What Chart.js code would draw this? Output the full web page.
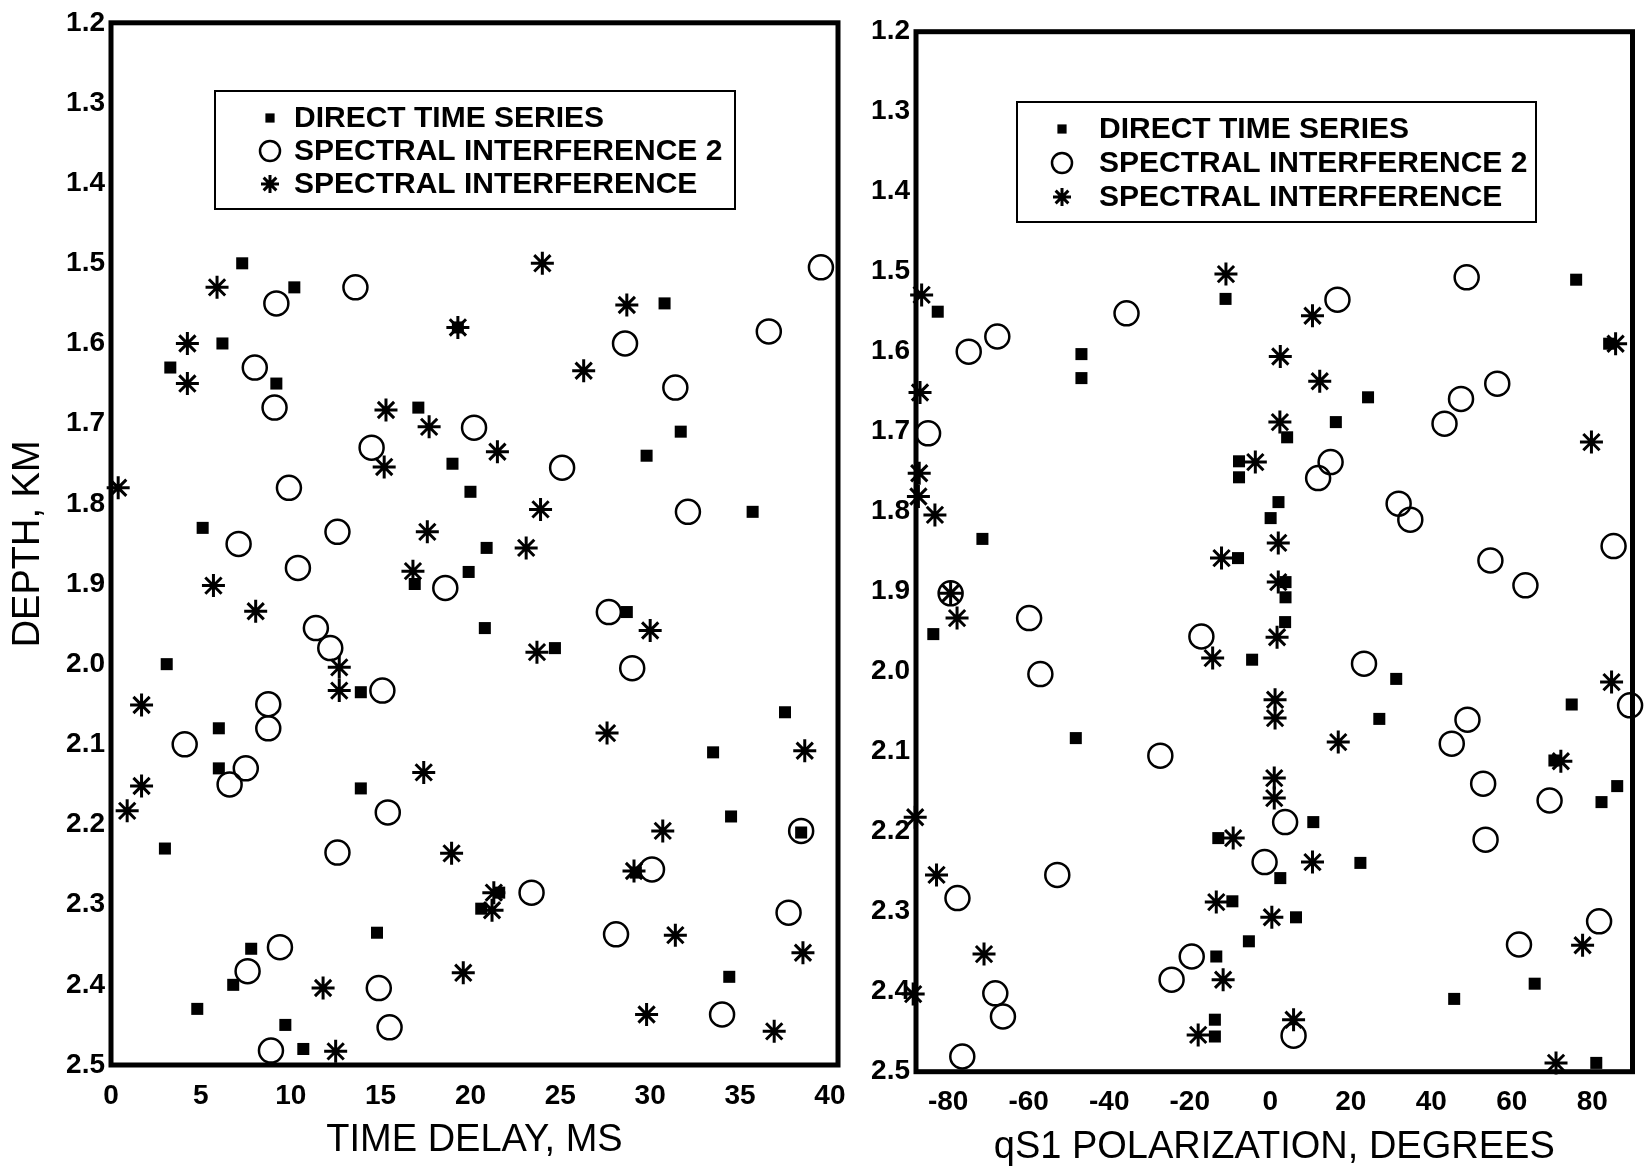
<!DOCTYPE html>
<html>
<head>
<meta charset="utf-8">
<title>Depth vs time delay and qS1 polarization</title>
<script src="https://cdn.jsdelivr.net/npm/chart.js@4.4.0/dist/chart.umd.min.js"></script>
<style>
  html, body { margin: 0; padding: 0; background: #fff; }
  #wrap { position: relative; width: 1647px; height: 1171px; overflow: hidden; }
  canvas { position: absolute; top: 0; }
  #delayChart { left: 0; }
  #polarChart { left: 860px; }
</style>
</head>
<body>
<div id="wrap">
  <canvas id="delayChart" width="860" height="1171"></canvas>
  <canvas id="polarChart" width="787" height="1171"></canvas>
</div>
<script>
// series names (same three in both panels)
const seriesNames = ["DIRECT TIME SERIES", "SPECTRAL INTERFERENCE 2", "SPECTRAL INTERFERENCE"];

// tick labels
const depthTicks = [1.2, 1.3, 1.4, 1.5, 1.6, 1.7, 1.8, 1.9, 2.0, 2.1, 2.2, 2.3, 2.4, 2.5];
const delayTicks = [0, 5, 10, 15, 20, 25, 30, 35, 40];
const polarTicks = [-80, -60, -40, -20, 0, 20, 40, 60, 80];

// left panel: [time delay ms, depth km]
const delayDirect = [
  [7.3, 1.50], [10.2, 1.53], [6.2, 1.60], [3.3, 1.63], [9.2, 1.65], [30.8, 1.55], [19.3, 1.58],
  [17.1, 1.68], [31.7, 1.71], [29.8, 1.74], [19.0, 1.75], [20.0, 1.785], [35.7, 1.81], [5.1, 1.83],
  [20.9, 1.855], [19.9, 1.885], [16.9, 1.90], [28.7, 1.935], [20.8, 1.955], [24.7, 1.98], [3.1, 2.0],
  [13.9, 2.035], [6.0, 2.08], [37.5, 2.06], [33.5, 2.11], [6.0, 2.13], [13.9, 2.155], [34.5, 2.19],
  [38.4, 2.21], [3.0, 2.23], [29.2, 2.26], [21.6, 2.285], [20.6, 2.305], [14.8, 2.335], [7.8, 2.355],
  [34.4, 2.39], [6.8, 2.40], [4.8, 2.43], [9.7, 2.45], [10.7, 2.48]
];
const delaySpec2 = [
  [13.6, 1.53], [9.2, 1.55], [39.5, 1.505], [36.6, 1.585], [28.6, 1.60], [8.0, 1.63], [31.4, 1.655],
  [9.1, 1.68], [20.2, 1.705], [14.5, 1.73], [25.1, 1.755], [9.9, 1.78], [32.1, 1.81], [12.6, 1.835],
  [7.1, 1.85], [10.4, 1.88], [18.6, 1.905], [27.7, 1.935], [11.4, 1.955], [12.2, 1.98], [29.0, 2.005],
  [15.1, 2.033], [8.75, 2.05], [8.75, 2.08], [4.1, 2.10], [7.5, 2.13], [6.6, 2.15], [15.4, 2.185],
  [38.4, 2.208], [12.6, 2.235], [30.1, 2.256], [23.4, 2.285], [37.7, 2.31], [28.1, 2.337], [9.4, 2.353],
  [7.6, 2.383], [14.9, 2.404], [34.0, 2.437], [15.5, 2.453], [8.9, 2.482]
];
const delaySpec = [
  [5.9, 1.53], [24.0, 1.50], [28.7, 1.552], [4.25, 1.60], [19.3, 1.58], [26.3, 1.634], [4.25, 1.65],
  [15.3, 1.683], [17.7, 1.704], [21.5, 1.735], [15.2, 1.754], [0.4, 1.78], [23.9, 1.807], [17.6, 1.835],
  [23.1, 1.855], [16.8, 1.884], [5.7, 1.902], [8.05, 1.934], [30.0, 1.958], [23.7, 1.985], [12.7, 2.004],
  [12.7, 2.033], [1.7, 2.051], [27.6, 2.086], [38.6, 2.108], [17.4, 2.135], [1.7, 2.152], [0.9, 2.183],
  [30.7, 2.208], [18.95, 2.236], [29.1, 2.258], [21.3, 2.285], [21.2, 2.307], [31.4, 2.338], [38.5, 2.36],
  [19.6, 2.385], [11.8, 2.404], [29.8, 2.437], [36.9, 2.458], [12.5, 2.483]
];

// right panel: [qS1 polarization deg, depth km]
const polarDirect = [
  [-82.6, 1.55], [-11.1, 1.534], [-46.9, 1.603], [-46.9, 1.633], [76.0, 1.51], [84.2, 1.59], [24.3, 1.657],
  [16.3, 1.688], [4.2, 1.707], [-7.75, 1.737], [-7.75, 1.757], [2.05, 1.788], [0.1, 1.808], [-71.5, 1.834],
  [-8.0, 1.858], [3.8, 1.888], [3.8, 1.907], [3.7, 1.938], [-83.7, 1.953], [-4.5, 1.985], [31.3, 2.009],
  [74.9, 2.041], [27.1, 2.059], [-48.3, 2.083], [70.6, 2.111], [86.2, 2.143], [82.3, 2.163], [10.7, 2.188],
  [-12.9, 2.208], [22.4, 2.239], [2.5, 2.258], [-9.4, 2.287], [6.4, 2.307], [-5.3, 2.337], [-13.4, 2.356],
  [65.7, 2.39], [45.7, 2.409], [-13.75, 2.435], [-13.75, 2.456], [81.0, 2.489]
];
const polarSpec2 = [
  [-35.7, 1.552], [-67.8, 1.581], [-74.9, 1.60], [48.8, 1.507], [16.7, 1.535], [-85.0, 1.702], [56.4, 1.64],
  [47.4, 1.659], [43.3, 1.69], [15.0, 1.738], [11.9, 1.758], [31.9, 1.79], [34.8, 1.81], [85.3, 1.843],
  [54.7, 1.861], [63.4, 1.892], [-79.4, 1.902], [-59.9, 1.933], [-17.1, 1.956], [23.3, 1.99], [-57.1, 2.003],
  [89.4, 2.042], [49.0, 2.06], [45.1, 2.09], [-27.3, 2.105], [52.9, 2.14], [69.4, 2.161], [3.7, 2.188],
  [53.5, 2.21], [-1.4, 2.238], [-52.9, 2.254], [-77.7, 2.283], [81.7, 2.312], [61.8, 2.341], [-19.5, 2.356],
  [-24.5, 2.385], [-68.3, 2.402], [-66.4, 2.431], [5.8, 2.455], [-76.5, 2.481]
];
const polarSpec = [
  [-11.0, 1.503], [-86.6, 1.529], [10.5, 1.555], [85.8, 1.59], [2.5, 1.606], [12.3, 1.637], [-87.0, 1.651],
  [2.4, 1.688], [79.8, 1.713], [-3.7, 1.738], [-87.2, 1.752], [-87.4, 1.781], [-83.3, 1.804], [2.0, 1.839],
  [-12.1, 1.858], [2.0, 1.888], [-79.4, 1.902], [-77.8, 1.933], [1.7, 1.957], [-14.3, 1.983], [84.8, 2.013],
  [1.2, 2.035], [1.2, 2.058], [16.9, 2.088], [72.2, 2.112], [1.0, 2.133], [1.0, 2.158], [-88.2, 2.182],
  [-9.2, 2.208], [10.5, 2.238], [-82.9, 2.254], [-13.4, 2.288], [0.4, 2.307], [77.6, 2.342], [-71.1, 2.353],
  [-11.7, 2.385], [-88.7, 2.403], [5.8, 2.435], [-17.9, 2.454], [71.0, 2.489]
];

const FONT = "'Liberation Sans', Arial, Helvetica, sans-serif";
Chart.defaults.color = "#000";
Chart.defaults.font.family = FONT;

// marker look per series: filled square, open circle, asterisk
const marks = [
  { pointStyle: "rect", pointRadius: 8.5, pointBorderWidth: 0, pointBackgroundColor: "#000", pointBorderColor: "#000", legendRadius: 6.5 },
  { pointStyle: "circle", pointRadius: 12, pointBorderWidth: 2.5, pointBackgroundColor: "rgba(0,0,0,0)", pointBorderColor: "#000", legendRadius: 10 },
  { pointStyle: "star", pointRadius: 11.5, pointBorderWidth: 3, pointBackgroundColor: "#000", pointBorderColor: "#000", legendRadius: 9 }
];

function toPoints(arr) {
  return arr.map(p => ({ x: p[0], y: p[1] }));
}

function makeSets(lists) {
  return lists.map((list, i) => Object.assign({
    label: seriesNames[i],
    data: toPoints(list),
    clip: false,
    pointHoverRadius: marks[i].pointRadius
  }, marks[i]));
}

// thick box round the plot area
const framePlugin = {
  id: "frame",
  beforeDatasetsDraw(chart) {
    const { ctx, chartArea: a } = chart;
    ctx.save();
    ctx.lineWidth = 5;
    ctx.strokeStyle = "#000";
    ctx.strokeRect(a.left, a.top, a.right - a.left, a.bottom - a.top);
    ctx.restore();
  }
};

// boxed legend inside the plot
const boxLegend = {
  id: "boxLegend",
  afterDatasetsDraw(chart, args, opts) {
    const ctx = chart.ctx;
    ctx.save();
    ctx.fillStyle = "#fff";
    ctx.fillRect(opts.left, opts.top, opts.width, opts.height);
    ctx.lineWidth = 2;
    ctx.strokeStyle = "#000";
    ctx.strokeRect(opts.left, opts.top, opts.width, opts.height);
    chart.data.datasets.forEach((ds, i) => {
      const y = opts.firstRow + i * opts.rowGap;
      ctx.lineWidth = ds.pointBorderWidth;
      ctx.strokeStyle = ds.pointBorderColor;
      ctx.fillStyle = ds.pointBackgroundColor;
      Chart.helpers.drawPoint(ctx, {
        pointStyle: ds.pointStyle,
        radius: marks[i].legendRadius,
        borderWidth: ds.pointBorderWidth,
        rotation: 0
      }, opts.markX, y);
      ctx.fillStyle = "#000";
      ctx.font = "bold 30px " + FONT;
      ctx.textBaseline = "middle";
      ctx.textAlign = "left";
      ctx.fillText(ds.label, opts.textX, y + 1);
    });
    ctx.restore();
  }
};

function panel(canvasId, lists, xTicks, xMin, xMax, xTitle, yTitle, area, legend) {
  return new Chart(document.getElementById(canvasId), {
    type: "scatter",
    data: { datasets: makeSets(lists) },
    plugins: [framePlugin, boxLegend],
    options: {
      responsive: false,
      animation: false,
      events: [],
      layout: { padding: { top: area.top, right: area.right, left: 0, bottom: 0 } },
      plugins: {
        legend: { display: false },
        tooltip: { enabled: false },
        boxLegend: legend
      },
      scales: {
        x: {
          type: "linear",
          min: xMin,
          max: xMax,
          grid: { display: false, drawTicks: false },
          border: { display: false },
          afterBuildTicks: s => { s.ticks = xTicks.map(v => ({ value: v })); },
          afterFit: s => { s.height = area.xHeight; },
          ticks: { font: { size: 28, weight: "bold" }, color: "#000", padding: 14, autoSkip: false, maxRotation: 0 },
          title: { display: true, text: xTitle, color: "#000", font: { size: 38 }, padding: { top: 0, bottom: area.titlePad } }
        },
        y: {
          type: "linear",
          reverse: true,
          min: 1.2,
          max: 2.5,
          grid: { display: false, drawTicks: false },
          border: { display: false },
          afterBuildTicks: s => { s.ticks = depthTicks.map(v => ({ value: v })); },
          afterFit: s => { s.width = area.yWidth; },
          ticks: { font: { size: 28, weight: "bold" }, color: "#000", padding: 6, autoSkip: false, callback: v => v.toFixed(1) },
          title: { display: yTitle !== "", text: yTitle, color: "#000", font: { size: 38 }, padding: { top: 6, bottom: 0 } }
        }
      }
    }
  });
}

panel("delayChart", [delayDirect, delaySpec2, delaySpec], delayTicks, 0, 40.45,
  "TIME DELAY, MS", "DEPTH, KM",
  { top: 22, right: 22, yWidth: 111, xHeight: 106, titlePad: 8 },
  { left: 215, top: 91, width: 520, height: 118, firstRow: 118, rowGap: 33, markX: 270, textX: 294 });

panel("polarChart", [polarDirect, polarSpec2, polarSpec], polarTicks, -88, 90,
  "qS1 POLARIZATION, DEGREES", "",
  { top: 31.7, right: 10, yWidth: 56, xHeight: 99.3, titlePad: 1 },
  { left: 157, top: 102, width: 519, height: 120, firstRow: 129, rowGap: 34, markX: 202, textX: 239 });
</script>
</body>
</html>
